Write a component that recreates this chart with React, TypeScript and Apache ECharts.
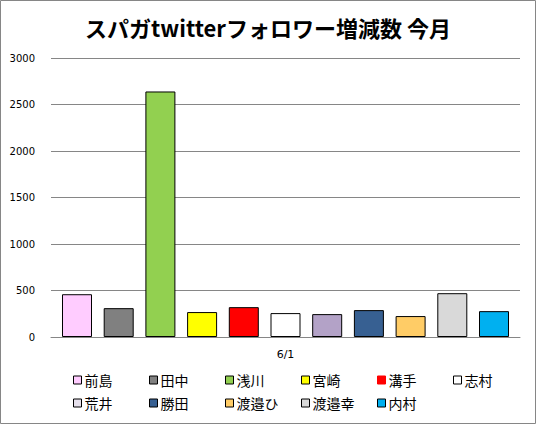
import React, { useEffect, useRef } from 'react';
import * as echarts from 'echarts';

const categories = ['6/1'];
const members = ['前島', '田中', '浅川', '宮崎', '溝手', '志村', '荒井', '勝田', '渡邉ひ', '渡邉幸', '内村'];
const values = [460, 310, 2640, 268, 321, 257, 246, 289, 225, 471, 278];
const barColors = ['#FFCCFF', '#808080', '#92D050', '#FFFF00', '#FF0000', '#FFFFFF', '#B3A2C7', '#376092', '#FFCC66', '#D9D9D9', '#00B0F0'];
const legendColors = ['#FFCCFF', '#808080', '#92D050', '#FFFF00', '#FF0000', '#FFFFFF', '#E6E0EC', '#376092', '#FFCC66', '#D9D9D9', '#00B0F0'];
const yTicks = { min: 0, max: 3000, interval: 500 };

const App: React.FC = () => {
  const chartRef = useRef<HTMLDivElement>(null);

  useEffect(() => {
    document.body.style.margin = '0';
    if (!chartRef.current) return;
    const chart = echarts.init(chartRef.current, undefined, { renderer: 'svg' });

    // one legend per item so the spacing can follow the reference grid
    const legends = members.map((name, i) => {
      const row = Math.floor(i / 6);
      const col = i % 6;
      const noBorder = name === '溝手';
      return {
        left: 73 + col * 76,
        top: 373 + row * 23,
        padding: 0,
        itemWidth: 8,
        itemHeight: 8,
        selectedMode: false,
        textStyle: { fontSize: 14, color: '#000', fontFamily: '"Noto Sans CJK JP", sans-serif', padding: [0, 0, 0, -2] },
        data: [
          {
            name,
            icon: 'rect',
            itemStyle: {
              color: legendColors[i],
              borderColor: noBorder ? legendColors[i] : '#000',
              borderWidth: 1,
            },
          },
        ],
      };
    });

    const option = {
      animation: false,
      backgroundColor: '#fff',
      title: {
        text: 'スパガtwitterフォロワー増減数 今月',
        left: 'center',
        top: 11,
        textStyle: {
          fontSize: 22,
          fontWeight: 'bold',
          color: '#000',
          fontFamily: '"Noto Sans CJK JP", sans-serif',
        },
      },
      graphic: [
        {
          type: 'rect',
          shape: { x: 0.5, y: 0.5, width: 535, height: 423 },
          style: { fill: 'none', stroke: '#868686', lineWidth: 1 },
          silent: true,
        },
      ],
      legend: legends,
      grid: { left: 51, right: 16, top: 58, bottom: 87 },
      xAxis: {
        type: 'category',
        data: categories,
        axisLine: { lineStyle: { color: '#868686' } },
        axisTick: { show: false },
        axisLabel: { color: '#000', fontSize: 11, margin: 12, fontFamily: '"DejaVu Sans", sans-serif' },
      },
      yAxis: {
        type: 'value',
        min: yTicks.min,
        max: yTicks.max,
        interval: yTicks.interval,
        axisLine: { show: false },
        axisTick: { show: false },
        splitLine: { lineStyle: { color: '#868686' } },
        axisLabel: {
          color: '#000',
          fontSize: 10,
          margin: 16,
          fontFamily: '"DejaVu Sans", sans-serif',
          formatter: (v: number) => String(v),
        },
      },
      series: members.map((name, i) => ({
        name,
        type: 'bar',
        data: [values[i]],
        barWidth: 30,
        barGap: '39%',
        itemStyle: { color: barColors[i], borderColor: '#000', borderWidth: 1 },
      })),
    } as any;

    chart.setOption(option);
    return () => chart.dispose();
  }, []);

  return <div ref={chartRef} style={{ width: 536, height: 424 }}></div>;
};

export default App;
